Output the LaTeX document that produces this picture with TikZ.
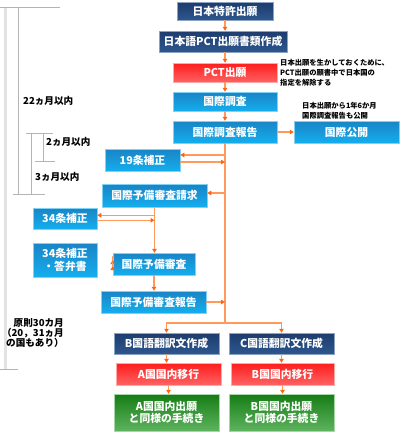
\documentclass[tikz,border=0pt]{standalone}
\usepackage{fontspec}
\setmainfont{Noto Sans CJK JP}
\usepackage{xcolor}
\definecolor{navytop}{HTML}{1D3C6C}
\definecolor{navybot}{HTML}{2D578F}
\definecolor{redtop}{HTML}{FF1C1C}
\definecolor{redbot}{HTML}{FF6262}
\definecolor{bluetop}{HTML}{1A84C6}
\definecolor{bluebot}{HTML}{14AEEE}
\definecolor{greentop}{HTML}{157C15}
\definecolor{greenbot}{HTML}{5EB45E}
\definecolor{arrline}{HTML}{FF9A5C}
\definecolor{arrtip}{HTML}{FF6410}
\definecolor{rulegray}{HTML}{B4B4B4}
\definecolor{rulelight}{HTML}{E2E2E2}
\usetikzlibrary{arrows.meta, positioning, calc}

\begin{document}
\begin{tikzpicture}[
  x=1pt, y=-1pt,
  font=\fontsize{10.8}{12}\selectfont\bfseries,
  box/.style={
    text=white, line width=0.5pt, inner sep=1pt, align=center,
    minimum width=105pt, minimum height=22pt
  },
  navy/.style={box, top color=navytop, bottom color=navybot, draw=navybot!55!white},
  redbox/.style={box, top color=redtop, bottom color=redbot, draw=redbot!55!white},
  bluebox/.style={box, top color=bluetop, bottom color=bluebot, draw=bluebot!55!white},
  greenbox/.style={box, top color=greentop, bottom color=greenbot, draw=greenbot!55!white},
  arr/.style={-{Triangle[length=4pt, width=4.5pt, color=arrtip]}, arrline, line width=1.3pt},
  spine/.style={arrline, line width=1.3pt},
  rule/.style={rulegray, line width=0.8pt},
  span/.style={font=\fontsize{9.6}{10}\selectfont\bfseries, inner sep=0pt, anchor=west},
  note/.style={font=\fontsize{7.3}{10}\selectfont\bfseries, inner sep=0pt,
    align=left, anchor=north west}
]
  \useasboundingbox (0,0) rectangle (400,432);

  % main column
  \node[navy, minimum width=96pt, minimum height=18pt] (tokkyo) at (225,11) {日本特許出願};
  \node[navy, minimum width=128pt, minimum height=21pt] (shorui) at (223,41.5) {日本語PCT出願書類作成};
  \node[redbox, minimum width=104pt, minimum height=19pt] (pct) at (225,72.5) {PCT出願};
  \node[bluebox, minimum width=104pt, minimum height=19pt] (chosa) at (225,101.5) {国際調査};
  \node[bluebox, minimum width=104pt] (hokoku) at (225,132) {国際調査報告};
  \node[bluebox] (kokai) at (346.5,132) {国際公開};

  \node[note] (notePct) at (280,59) {日本出願を生かしておくために、\\PCT出願の願書中で日本国の\\指定を解除する};
  \node[note] (noteKokai) at (302,102) {日本出願から1年6か月\\国際調査報告も公開};

  % demand branch
  \node[bluebox, minimum width=75pt] (hosei19) at (142.5,160) {19条補正};
  \node[bluebox, minimum height=23pt] (seikyu) at (154.5,195.5) {国際予備審査請求};
  \node[bluebox, minimum width=64pt, minimum height=21pt] (hosei34) at (65,218.5) {34条補正};
  \node[bluebox, minimum width=64pt, minimum height=34pt] (toben) at (65,260) {34条補正\\[1pt]・答弁書};
  \node[bluebox, minimum width=82pt] (shinsa) at (154,264) {国際予備審査};
  \node[bluebox] (yobi) at (153.5,302) {国際予備審査報告};

  % national phase
  \node[navy, minimum height=21pt] (honB) at (166.5,343.5) {B国語翻訳文作成};
  \node[navy, minimum height=21pt] (honC) at (281.5,343.5) {C国語翻訳文作成};
  \node[redbox] (ikoA) at (168.5,374) {A国国内移行};
  \node[redbox, minimum width=103pt] (ikoB) at (282.5,374) {B国国内移行};
  \node[greenbox, minimum height=37pt] (teA) at (166.5,412.5) {A国国内出願\\と同様の手続き};
  \node[greenbox, minimum height=37pt] (teB) at (281.5,412.5) {B国国内出願\\と同様の手続き};

  \foreach \a/\b in {tokkyo/shorui, shorui/pct, pct/chosa, chosa/hokoku}
    \draw[arr] (\a.south -| hokoku.north) -- (\b.north -| hokoku.north);
  \draw[arr] (hokoku.east) -- (kokai.west);

  \coordinate (split) at (225,323);
  \coordinate (out19) at (225,155);
  \coordinate (in19) at (225,162);
  \coordinate (outSeikyu) at (225,193);
  \draw[spine] (hokoku.south) -- (split);
  \draw[arr] (out19) -- (out19 -| hosei19.east);
  \draw[arr] (hosei19.east |- in19) -- (in19);
  \draw[arr] (outSeikyu) -- (outSeikyu -| seikyu.east);
  \draw[arr] (yobi.east) -- (yobi.east -| split);
  \draw[arr] (split) -| (honB.north);
  \draw[arr] (split) -| (honC.north);

  \coordinate (out34) at ($(seikyu.south)+(0,8)$);
  \coordinate (in34) at ($(seikyu.south)+(0,13)$);
  \draw[arr] (seikyu.south) -- (seikyu.south |- shinsa.north);
  \draw[arr] (out34) -- (out34 -| hosei34.east);
  \draw[arr] (hosei34.east |- in34) -- (in34);
  \draw[arr] ($(shinsa.west)+(0,-4)$) -- ($(shinsa.west)+(0,-4)$ -| toben.east);
  \draw[arr] ($(shinsa.west)+(0,2)$ -| toben.east) -- ($(shinsa.west)+(0,2)$);
  \draw[arr] (shinsa.south) -- (shinsa.south |- yobi.north);

  \foreach \a/\b in {honB/ikoA, honC/ikoB, ikoA/teA, ikoB/teB}
    \draw[arr] (\a.south) -- (\a.south |- \b.north);

  % time limits on the left
  \draw[rulelight, line width=3pt] (5,7) -- (5,369);
  \draw[rule] (0,7) -- (60,7);
  \draw[rule] (0,369) -- (18,369);
  \draw[rule] (18,7) -- (18,194);
  \draw[rule] (13,194) -- (45,194);
  \draw[rule] (26,133) -- (53,133);
  \draw[rule] (31,133) -- (31,194);
  \draw[rule] (43,133) -- (43,161);
  \draw[rule] (35,161) -- (55,161);
  \node[span] (m22) at (23,101) {22ヵ月以内};
  \node[span] (m2) at (46,142) {2ヵ月以内};
  \node[span] (m3) at (35,177) {3ヵ月以内};
  \node[span, align=right, anchor=north east] (m30) at (64,318) {原則30カ月\\（20，31ヵ月\\の国もあり）};
\end{tikzpicture}
\end{document}
